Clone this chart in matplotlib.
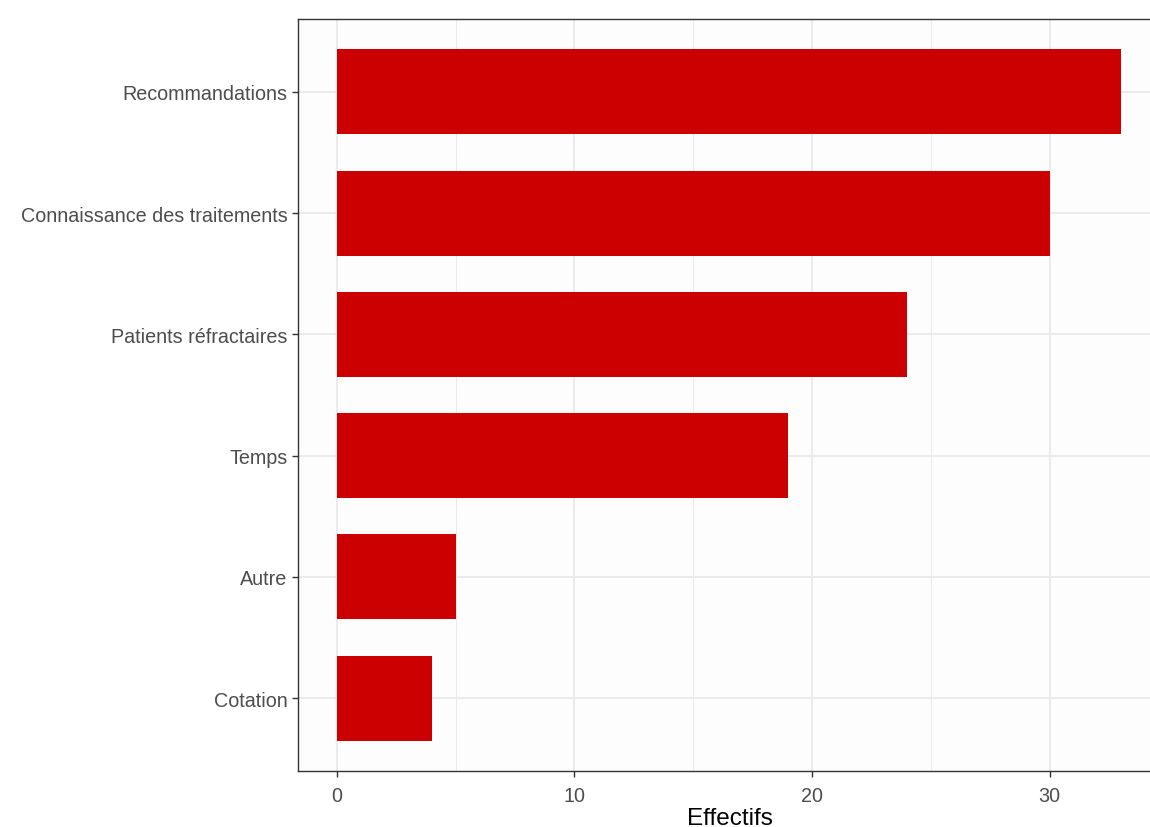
import matplotlib.pyplot as plt

plt.rcParams["font.family"] = ["Liberation Sans", "DejaVu Sans"]

categories = ["Cotation", "Autre", "Temps", "Patients réfractaires",
              "Connaissance des traitements", "Recommandations"]
counts = [4, 5, 19, 24, 30, 33]
xticks = [0, 10, 20, 30]

fig = plt.figure(figsize=(11.5, 8.28), dpi=100)
fig.patch.set_facecolor("white")
ax = fig.add_axes([298 / 1150, 1 - 772 / 828, 1 - 298 / 1150, (772 - 20) / 828])
ax.set_facecolor("#fdfdfd")

ypos = list(range(len(categories)))
ax.barh(ypos, counts, height=0.7, color="#cc0000", zorder=2)

ax.set_xlim(-1.64, 34.23)
ax.set_ylim(-0.6, 5.6)
ax.set_xticks(xticks)
ax.set_xticks([5, 15, 25], minor=True)
ax.set_yticks(ypos)
ax.set_yticklabels(categories)

ax.grid(True, which="major", color="#ebebeb", linewidth=1.4, zorder=0)
ax.grid(True, which="minor", axis="x", color="#ebebeb", linewidth=0.8, zorder=0)
ax.set_axisbelow(True)

for s in ["left", "bottom", "top"]:
    ax.spines[s].set_color("#333333")
    ax.spines[s].set_linewidth(1.0)
ax.spines["right"].set_visible(False)

ax.tick_params(axis="both", which="major", length=4.5, width=1.0, color="#333333",
               labelcolor="#4d4d4d", labelsize=14.2, pad=3)
ax.tick_params(axis="x", which="major", pad=6)
ax.tick_params(axis="x", which="minor", length=0)

fig.text(730 / 1150, 1 - 819 / 828, "Effectifs", ha="center", va="center",
         fontsize=17.5, color="black")

fig.savefig("out.png", dpi=100)
